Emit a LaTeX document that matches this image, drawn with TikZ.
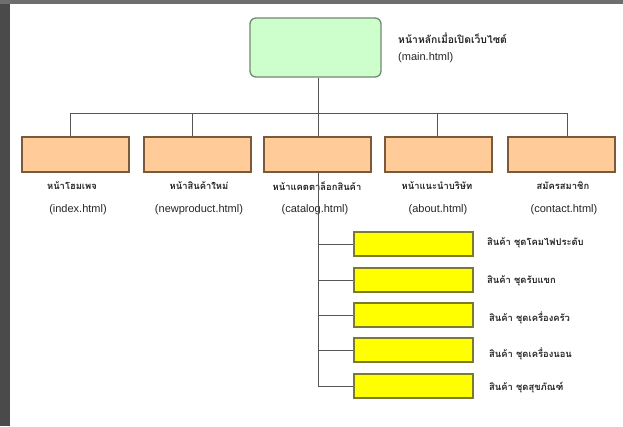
\documentclass[tikz,border=0pt]{standalone}
\usepackage{fontspec}
\setmainfont{Liberation Sans}
\newfontfamily\thaifont[Script=Thai]{Loma}
\definecolor{bgdark}{HTML}{4A4A4A}
\definecolor{bgtop}{HTML}{6E6E6E}
\definecolor{mainfill}{HTML}{CCFFCC}
\definecolor{mainline}{HTML}{6F8A6F}
\definecolor{pagefill}{HTML}{FFCC99}
\definecolor{pageline}{HTML}{7A5A3A}
\definecolor{subfill}{HTML}{FFFF00}
\definecolor{subline}{HTML}{7A7A30}
\definecolor{conn}{HTML}{555555}
\tikzset{
  mainbox/.style={draw=mainline, fill=mainfill, line width=1.3pt, rounded corners=6pt, minimum width=131pt, minimum height=59pt, inner sep=0pt},
  pagebox/.style={draw=pageline, fill=pagefill, line width=1.1pt, minimum width=107pt, minimum height=35pt, inner sep=0pt},
  subbox/.style={draw=subline, fill=subfill, line width=1.1pt, minimum width=119pt, minimum height=24pt, inner sep=0pt},
  conline/.style={draw=conn, line width=1pt},
  thlabel/.style={font=\thaifont\bfseries\fontsize{9.4}{10}\selectfont, text=black!85, inner sep=0pt},
  enlabel/.style={font=\fontsize{11}{12}\selectfont, text=black!85, inner sep=0pt},
}
\begin{document}
\begin{tikzpicture}[x=1pt,y=-1pt]
\useasboundingbox (0,0) rectangle (623,426);
\fill[bgdark] (0,0) rectangle (623,426);
\fill[bgtop] (0,0) rectangle (623,4);
\fill[white] (10,4) rectangle (623,426);

% main
\node[mainbox] (main) at (315.5,47.5) {};
\node[thlabel, anchor=west, font=\thaifont\bfseries\fontsize{10.4}{11}\selectfont] (mainth) at (398,38) {หน้าหลักเมื่อเปิดเว็บไซต์};
\node[enlabel, anchor=west] (mainen) at (398,58) {(main.html)};

% page boxes
\node[pagebox] (p1) at (75.5,154.5) {};
\node[pagebox] (p2) at (197.5,154.5) {};
\node[pagebox] (p3) at (317.5,154.5) {};
\node[pagebox] (p4) at (438.5,154.5) {};
\node[pagebox] (p5) at (561.5,154.5) {};

\node[thlabel] (p1th) at (72,186) {หน้าโฮมเพจ};
\node[thlabel] (p2th) at (199,186) {หน้าสินค้าใหม่};
\node[thlabel] (p3th) at (317,186) {หน้าแคตตาล็อกสินค้า};
\node[thlabel] (p4th) at (437,186) {หน้าแนะนำบริษัท};
\node[thlabel] (p5th) at (563,186) {สมัครสมาชิก};

\node[enlabel] (p1en) at (78,210) {(index.html)};
\node[enlabel] (p2en) at (199,210) {(newproduct.html)};
\node[enlabel] (p3en) at (315,210) {(catalog.html)};
\node[enlabel] (p4en) at (438,210) {(about.html)};
\node[enlabel] (p5en) at (564,210) {(contact.html)};

% sub boxes
\node[subbox] (s1) at (413.5,244) {};
\node[subbox] (s2) at (413.5,280) {};
\node[subbox] (s3) at (413.5,315) {};
\node[subbox] (s4) at (413.5,350) {};
\node[subbox] (s5) at (413.5,386) {};

\node[thlabel, anchor=west] (s1t) at (487,243) {สินค้า ชุดโคมไฟประดับ};
\node[thlabel, anchor=west] (s2t) at (487,281) {สินค้า ชุดรับแขก};
\node[thlabel, anchor=west] (s3t) at (489,318) {สินค้า ชุดเครื่องครัว};
\node[thlabel, anchor=west] (s4t) at (489,354) {สินค้า ชุดเครื่องนอน};
\node[thlabel, anchor=west] (s5t) at (489,388) {สินค้า ชุดสุขภัณฑ์};

% connectors
\coordinate (busL) at (70,113);
\coordinate (busR) at (567,113);
\coordinate (d2) at (192,113);
\coordinate (d3) at (318,113);
\coordinate (d4) at (437,113);
\draw[conline] (main.south -| d3) -- (d3);
\draw[conline] (busL) -- (busR);
\draw[conline] (busL) -- (busL |- p1.north);
\draw[conline] (d2) -- (d2 |- p2.north);
\draw[conline] (d3) -- (d3 |- p3.north);
\draw[conline] (d4) -- (d4 |- p4.north);
\draw[conline] (busR) -- (busR |- p5.north);
\draw[conline] (d3 |- p3.south) -- (d3 |- s5.west) -- (s5.west);
\draw[conline] (d3 |- s1.west) -- (s1.west);
\draw[conline] (d3 |- s2.west) -- (s2.west);
\draw[conline] (d3 |- s3.west) -- (s3.west);
\draw[conline] (d3 |- s4.west) -- (s4.west);
\end{tikzpicture}
\end{document}
